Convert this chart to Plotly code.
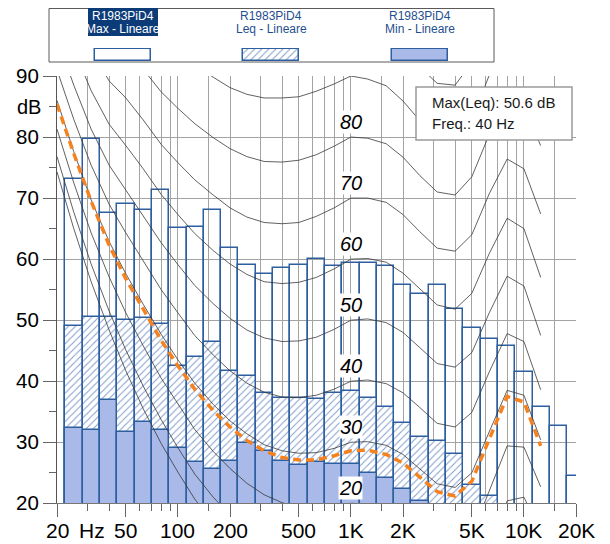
import math
import plotly.graph_objects as go

# the page body has an 8 px margin: the figure occupies (8,8)-(610,544) of the window
OFF = 8
W, H = 610 - OFF, 544 - OFF


def pxx(x):
    return (x - OFF) / W


def pyy(y):
    return 1 - (y - OFF) / H


# ---------------- data ----------------
band_freqs = [25, 31.5, 40, 50, 63, 80, 100, 125, 160, 200, 250, 315, 400, 500, 630, 800,
              1000, 1250, 1600, 2000, 2500, 3150, 4000, 5000, 6300, 8000, 10000, 12500, 16000, 20000]
max_db = [73.1, 79.7, 67.5, 69.0, 68.0, 71.3, 65.1, 65.3, 68.0, 61.8, 59.1, 57.6, 58.5, 59.1, 60.0, 58.9,
          59.4, 59.3, 58.9, 55.7, 54.3, 55.7, 51.9, 48.8, 46.9, 45.8, 41.5, 35.8, 32.7, 24.5]
leq_db = [49.0, 50.5, 50.6, 50.1, 50.4, 49.3, 42.5, 43.9, 46.5, 41.7, 40.9, 38.0, 37.3, 37.3, 37.1, 38.0,
          38.4, 37.2, 35.7, 33.1, 30.8, 30.2, 28.0, 23.0, 21.2, 18.0, 17.0, 15.0, 13.0, 10.0]
min_db = [32.3, 32.0, 36.9, 31.6, 33.4, 32.0, 29.0, 26.8, 25.7, 27.0, 29.8, 28.6, 26.9, 26.2, 26.8, 26.4,
          26.4, 25.0, 24.1, 22.4, 20.3, 18.5, 17.5, 15.0, 14.0, 12.0, 11.0, 10.0, 9.0, 8.0]

# equal-loudness contours (dB at each third-octave frequency)
contour_freqs = [20, 25, 31.5, 40, 50, 63, 80, 100, 125, 160, 200, 250, 315, 400, 500, 630, 800,
                 1000, 1250, 1600, 2000, 2500, 3150, 4000, 5000, 6300, 8000, 10000, 12500]
maf = [74.3, 65.0, 56.3, 48.4, 41.7, 35.5, 29.8, 25.1, 20.7, 16.8, 13.8, 11.2, 8.9, 7.2, 6.0, 5.0, 4.4,
       4.2, 3.7, 2.6, 1.0, -1.2, -3.6, -3.9, -1.1, 6.6, 15.3, 16.4, 11.6]
phon10 = [76.8, 67.7, 59.2, 51.5, 45.1, 39.2, 33.7, 29.1, 24.8, 21.0, 18.1, 15.6, 13.4, 11.9, 10.9, 10.1, 9.9,
          10.0, 9.7, 8.7, 7.2, 5.0, 2.6, 2.2, 4.8, 12.2, 20.4, 21.0, 15.5]
phon20 = [81.3, 72.5, 64.3, 57.1, 51.2, 45.8, 40.5, 36.2, 32.1, 28.5, 25.7, 23.3, 21.4, 20.1, 19.4, 19.1, 19.4,
          20.0, 19.9, 19.2, 17.7, 15.4, 13.0, 12.5, 15.0, 22.0, 29.4, 29.2, 22.7]
phon30 = [86.0, 77.6, 69.7, 62.9, 57.6, 52.6, 47.7, 43.5, 39.7, 36.2, 33.5, 31.4, 29.6, 28.6, 28.2, 28.3, 29.0,
          30.0, 30.1, 29.5, 28.0, 25.7, 23.2, 22.6, 25.0, 31.7, 38.5, 37.7, 30.4]
phon40 = [91.0, 82.9, 75.4, 69.0, 64.3, 59.7, 55.0, 51.2, 47.5, 44.3, 41.7, 39.7, 38.2, 37.4, 37.3, 37.7, 38.7,
          40.0, 40.2, 39.6, 38.1, 35.7, 33.1, 32.5, 34.9, 41.5, 47.8, 46.5, 38.6]
phon50 = [96.2, 88.5, 81.3, 75.4, 71.3, 67.1, 62.7, 59.1, 55.7, 52.7, 50.3, 48.4, 47.1, 46.5, 46.6, 47.2, 48.5,
          50.0, 50.2, 49.6, 48.0, 45.5, 42.9, 42.3, 44.7, 51.2, 57.2, 55.6, 47.5]
phon60 = [101.7, 94.4, 87.6, 82.1, 78.6, 74.8, 70.6, 67.3, 64.2, 61.4, 59.2, 57.5, 56.3, 56.0, 56.2, 57.0, 58.4,
          60.0, 60.1, 59.5, 57.7, 55.1, 52.5, 51.8, 54.4, 60.9, 66.7, 65.0, 57.0]
phon70 = [107.6, 100.7, 94.3, 89.2, 86.4, 82.8, 78.8, 75.8, 73.0, 70.5, 68.4, 66.9, 66.0, 65.8, 66.0, 67.0, 68.4,
          70.0, 70.0, 69.3, 67.3, 64.5, 61.8, 61.3, 64.0, 70.7, 76.4, 74.8, 67.4]
phon80 = [113.7, 107.3, 101.3, 96.6, 94.6, 91.1, 87.4, 84.7, 82.2, 79.9, 78.1, 76.8, 76.0, 75.9, 76.2, 77.1, 78.5,
          80.0, 79.8, 78.9, 76.7, 73.7, 71.0, 70.5, 73.5, 80.4, 86.3, 84.9, 78.6]
phon90 = [120.3, 114.4, 108.7, 104.4, 103.2, 99.8, 96.3, 94.0, 91.8, 89.8, 88.1, 87.0, 86.4, 86.4, 86.6, 87.5, 88.7,
          90.0, 89.5, 88.4, 85.9, 82.7, 80.0, 79.6, 82.9, 90.1, 96.4, 95.5, 90.9]
phon100 = [127.2, 121.9, 116.6, 112.6, 112.3, 108.9, 105.6, 103.6, 101.8, 100.1, 98.7, 97.8, 97.2, 97.3, 97.4, 98.1,
           99.0, 100.0, 99.1, 97.7, 94.9, 91.5, 88.8, 88.5, 92.2, 99.9, 106.6, 106.5, 104.3]
contours = [maf, phon10, phon20, phon30, phon40, phon50, phon60, phon70, phon80, phon90, phon100]

# orange dashed loudness curve
loud_curve = [85.4, 77.3, 69.5, 62.3, 56.8, 51.8, 46.7, 42.5, 38.7, 35.2, 32.5, 30.3, 28.6, 27.5, 27.1, 27.1, 27.8,
              28.6, 28.7, 28.0, 26.6, 24.3, 21.9, 21.2, 23.6, 30.5, 37.5, 36.6, 29.4]

contour_labels = [20, 30, 40, 50, 60, 70, 80]

x_major = [20, 50, 100, 200, 500, 1000, 2000, 5000, 10000, 20000]
x_major_text = ["20", "50", "100", "200", "500", "1K", "2K", "5K", "10K", "20K"]
x_minor = [30, 40, 60, 70, 80, 90, 150, 300, 400, 600, 700, 800, 900, 1500,
           3000, 4000, 6000, 7000, 8000, 9000, 15000]
y_major = [20, 30, 40, 50, 60, 70, 80, 90]
y_minor = [25, 35, 45, 55, 65, 75, 85]

series_names = ["Max - Lineare", "Leq - Lineare", "Min - Lineare"]
source_name = "R1983PiD4"

# ---------------- styling ----------------
BLUE_LINE = "#2d5fa0"
MIN_FILL = "#a9b9e8"
HATCH = "#7f9dcc"
GRID = "#a3a3a3"
FONT = "Liberation Sans, Arial, sans-serif"

# third-octave band edges
lo, wid = [], []
for f in band_freqs:
    k = round(10 * math.log10(f / 1000.0))
    a = 1000 * 10 ** ((k - 0.5) / 10)
    b = 1000 * 10 ** ((k + 0.5) / 10)
    lo.append(a)
    wid.append(b - a)

HATCH_PAT = dict(shape="/", fgcolor=HATCH, bgcolor="white", size=5, solidity=0.2)

fig = go.Figure()

fig.add_trace(go.Bar(x=lo, y=max_db, width=wid, offset=0, base=0,
                     marker=dict(color="rgba(255,255,255,0)", line=dict(color=BLUE_LINE, width=1.5)),
                     hoverinfo="skip", showlegend=False))
fig.add_trace(go.Bar(x=lo, y=leq_db, width=wid, offset=0, base=0,
                     marker=dict(color="white", line=dict(color=BLUE_LINE, width=1.5), pattern=HATCH_PAT),
                     hoverinfo="skip", showlegend=False))
fig.add_trace(go.Bar(x=lo, y=min_db, width=wid, offset=0, base=0,
                     marker=dict(color=MIN_FILL, line=dict(color=BLUE_LINE, width=1.5)),
                     hoverinfo="skip", showlegend=False))

for c in contours:
    fig.add_trace(go.Scatter(x=contour_freqs, y=c, mode="lines",
                             line=dict(color="#383838", width=0.8),
                             hoverinfo="skip", showlegend=False))

fig.add_trace(go.Scatter(x=contour_freqs, y=loud_curve, mode="lines",
                         line=dict(color="#f5821f", width=3.5, dash="8px,5px"),
                         hoverinfo="skip", showlegend=False))

# legend swatches (drawn with bars on a helper axis)
sw_centers = [123, 271, 420]
for j in range(3):
    if j == 0:
        mk = dict(color="white", line=dict(color=BLUE_LINE, width=1.5))
    elif j == 1:
        mk = dict(color="white", line=dict(color=BLUE_LINE, width=1.5), pattern=HATCH_PAT)
    else:
        mk = dict(color=MIN_FILL, line=dict(color=BLUE_LINE, width=1.5))
    fig.add_trace(go.Bar(x=[sw_centers[j]], y=[1], width=[56], xaxis="x2", yaxis="y2",
                         marker=mk, hoverinfo="skip", showlegend=False))

annotations = []
shapes = []

# contour labels
for p in contour_labels:
    annotations.append(dict(x=3, y=p + 2.5, xref="x", yref="y", text=str(p), showarrow=False,
                            font=dict(family=FONT, size=20, color="black", style="italic"),
                            bgcolor="white", borderpad=0))

# x tick labels (placed just under the ticks)
for v, t in zip(x_major, x_major_text):
    annotations.append(dict(x=math.log10(v), y=pyy(530), xref="x", yref="paper", text=t, showarrow=False,
                            xanchor="center", yanchor="middle",
                            font=dict(family=FONT, size=21, color="black")))
annotations.append(dict(x=pxx(77), y=pyy(530), xref="paper", yref="paper", text="Hz", showarrow=False,
                        xanchor="left", yanchor="middle", font=dict(family=FONT, size=21, color="black")))
annotations.append(dict(x=pxx(43), y=85, xref="paper", yref="y", text="dB", showarrow=False,
                        xanchor="right", yanchor="middle", font=dict(family=FONT, size=20, color="black")))

# info box
i_max = max(range(len(leq_db)), key=lambda i: leq_db[i])
f_max = band_freqs[i_max]
f_txt = (f"{f_max/1000:g}K" if f_max >= 1000 else f"{f_max:g}")
shapes.append(dict(type="rect", xref="paper", yref="paper", x0=pxx(416), x1=pxx(572), y0=pyy(140), y1=pyy(87),
                   fillcolor="white", line=dict(color="#9a9a9a", width=1.5), layer="above"))
annotations.append(dict(x=pxx(430), y=pyy(102.5), xref="paper", yref="paper",
                        text=f"Max(Leq): {leq_db[i_max]:.1f} dB", showarrow=False, xanchor="left",
                        yanchor="middle", font=dict(family=FONT, size=15, color="#1a1a1a")))
annotations.append(dict(x=pxx(430), y=pyy(123.5), xref="paper", yref="paper",
                        text=f"Freq.: {f_txt} Hz", showarrow=False, xanchor="left",
                        yanchor="middle", font=dict(family=FONT, size=15, color="#1a1a1a")))

# legend header box
shapes.append(dict(type="rect", xref="paper", yref="paper", x0=pxx(49), x1=pxx(494), y0=pyy(62), y1=pyy(8.5),
                   fillcolor="rgba(0,0,0,0)", line=dict(color="#5a5a5a", width=1), layer="below"))
shapes.append(dict(type="rect", xref="paper", yref="paper", x0=pxx(88), x1=pxx(158), y0=pyy(36), y1=pyy(8),
                   fillcolor="#0b3c78", line=dict(width=0), layer="below"))
for j, name in enumerate(series_names):
    col = "white" if j == 0 else "#1f4f8e"
    annotations.append(dict(x=pxx(sw_centers[j]), y=pyy(15.5), xref="paper", yref="paper", text=source_name,
                            showarrow=False, xanchor="center", yanchor="middle",
                            font=dict(family=FONT, size=12, color=col)))
    annotations.append(dict(x=pxx(sw_centers[j]), y=pyy(29), xref="paper", yref="paper", text=name,
                            showarrow=False, xanchor="center", yanchor="middle",
                            font=dict(family=FONT, size=12, color=col)))

fig.update_layout(
    template="none",
    width=W, height=H, autosize=False,
    margin=dict(l=0, r=0, t=0, b=0, pad=0),
    paper_bgcolor="white", plot_bgcolor="white",
    barmode="overlay", bargap=0,
    showlegend=False,
    annotations=annotations,
    shapes=shapes,
    xaxis=dict(type="log", range=[math.log10(20), math.log10(20000)],
               domain=[pxx(57), pxx(576)], automargin=False,
               tickmode="array", tickvals=x_major, ticktext=x_major_text, showticklabels=False,
               ticks="outside", ticklen=13, tickcolor="#666", tickwidth=1,
               showgrid=True, gridcolor=GRID, gridwidth=1,
               showline=True, linecolor="#777", linewidth=1, zeroline=False,
               minor=dict(tickmode="array", tickvals=x_minor, ticks="outside", ticklen=7,
                          tickcolor="#666", showgrid=True, gridcolor=GRID, gridwidth=1)),
    yaxis=dict(range=[20, 90], domain=[pyy(503.3), pyy(76)], automargin=False,
               tickmode="array", tickvals=y_major,
               ticks="outside", ticklen=13, tickcolor="#666", tickwidth=1,
               tickfont=dict(family=FONT, size=20.5, color="black"),
               showgrid=True, gridcolor=GRID, gridwidth=1,
               showline=True, linecolor="#555", linewidth=1, zeroline=False,
               minor=dict(tickmode="array", tickvals=y_minor, ticks="outside", ticklen=7,
                          tickcolor="#666", showgrid=False)),
    xaxis2=dict(domain=[pxx(93), pxx(450)], range=[93, 450], anchor="y2", visible=False, fixedrange=True),
    yaxis2=dict(domain=[pyy(62), pyy(48)], range=[-0.08, 1.08], anchor="x2", visible=False, fixedrange=True),
)

fig.write_html("out.html")
